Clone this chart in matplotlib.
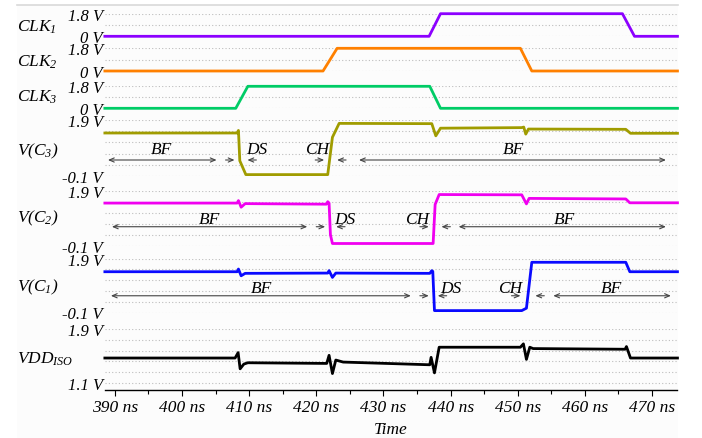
import numpy as np
import matplotlib.pyplot as plt
from matplotlib.lines import Line2D
from matplotlib.patches import Rectangle

# times in ns, voltages in V
t_clk1 = [388.5, 436.8, 438.5, 465.6, 467.4, 473.8]
v_clk1 = [0, 0, 1.8, 1.8, 0, 0]
t_clk2 = [388.5, 421.0, 423.1, 450.4, 452.1, 473.8]
v_clk2 = [0, 0, 1.8, 1.8, 0, 0]
t_clk3 = [388.5, 408.0, 409.8, 436.9, 438.5, 473.8]
v_clk3 = [0, 0, 1.8, 1.8, 0, 0]

t_c3 = [388.5, 408.2, 408.4, 408.6, 409.5, 421.7, 422.4, 423.4, 437.2, 437.8,
        438.5, 450.6, 450.9, 451.2, 451.6, 466.1, 466.8, 473.8]
v_c3 = [1.43, 1.43, 1.52, 0.45, -0.04, -0.04, 1.28, 1.77, 1.76, 1.33,
        1.60, 1.62, 1.64, 1.39, 1.57, 1.56, 1.42, 1.42]

t_c2 = [388.5, 408.2, 408.4, 408.8, 409.4, 421.5, 421.7, 421.9, 422.1, 422.4,
        437.4, 437.7, 438.3, 450.6, 451.3, 451.7, 466.1, 466.7, 473.8]
v_c2 = [1.45, 1.45, 1.54, 1.30, 1.43, 1.41, 1.50, 1.45, 0.30, -0.02,
        -0.02, 1.40, 1.76, 1.75, 1.42, 1.62, 1.60, 1.46, 1.46]

t_c1 = [388.5, 408.2, 408.4, 408.8, 409.4, 421.7, 421.9, 422.4, 422.9, 436.9,
        437.2, 437.35, 437.6, 450.6, 451.3, 452.1, 466.1, 466.7, 473.8]
v_c1 = [1.41, 1.41, 1.51, 1.26, 1.35, 1.36, 1.45, 1.20, 1.36, 1.35,
        1.45, 1.42, -0.03, -0.03, 0.06, 1.76, 1.76, 1.41, 1.41]

t_vdd = [388.5, 407.9, 408.35, 408.65, 409.2, 409.8, 421.55, 421.9, 422.4, 422.9,
         424.0, 436.9, 437.1, 437.6, 438.3, 450.4, 450.85, 451.3, 451.8, 452.3,
         466.0, 466.2, 466.8, 473.8]
v_vdd = [1.47, 1.47, 1.55, 1.31, 1.38, 1.40, 1.39, 1.51, 1.24, 1.44,
         1.41, 1.37, 1.48, 1.25, 1.63, 1.63, 1.68, 1.45, 1.63, 1.61,
         1.60, 1.64, 1.47, 1.47]

# phase markers (ns): BF spans, DS / CH edges, label centres
c3_bf = [(388.96, 405.14), (426.36, 472.08)]
c3_ds = (407.81, 409.74)
c3_ch = (421.17, 423.10)
c3_lab = [("BF", 396.98), ("DS", 411.08), ("CH", 420.13), ("BF", 449.37)]

c2_bf = [(389.55, 418.65), (441.2, 472.08)]
c2_ds = (421.32, 422.95)
c2_ch = (436.75, 438.64)
c2_lab = [("BF", 404.1), ("DS", 424.3), ("CH", 434.97), ("BF", 457.04)]

c1_bf = [(389.4, 434.08), (455.3, 472.82)]
c1_ds = (436.75, 438.09)
c1_ch = (450.41, 452.63)
c1_lab = [("BF", 411.8), ("DS", 439.97), ("CH", 448.88), ("BF", 463.9)]

x_ticks = [390, 400, 410, 420, 430, 440, 450, 460, 470]

plt.rcParams['font.family'] = ['Liberation Serif', 'DejaVu Serif']
plt.rcParams['font.style'] = 'italic'
plt.rcParams['mathtext.fontset'] = 'custom'
plt.rcParams['mathtext.it'] = 'Liberation Serif:italic'
plt.rcParams['mathtext.rm'] = 'Liberation Serif:italic'
plt.rcParams['mathtext.default'] = 'it'
FS = 12.5

W, H = 702, 439
X0, X1 = 105, 677
fig = plt.figure(figsize=(W / 100, H / 100), dpi=100)

# faint panel background + top border like the original screenshot
fig.add_artist(Rectangle((17 / W, 0), (678 - 17) / W, 1 - 6 / H,
                         transform=fig.transFigure, fc='#fcfcfc', ec='none', zorder=-5))
fig.add_artist(Line2D([17 / W, 678 / W], [1 - 6 / H, 1 - 6 / H],
                      transform=fig.transFigure, color='#d9d9d9', lw=1.2))


def panel(y_top, y_bot, vb, vt, grid, labels, extra=0):
    # axes placed so that vt sits at pixel y_top and vb at pixel y_bot
    scale = (vt - vb) / (y_bot - y_top)
    ax = fig.add_axes([X0 / W, 1 - (y_bot + extra) / H, (X1 - X0) / W,
                       (y_bot + extra - y_top) / H])
    ax.set_facecolor('none')
    ax.set_xlim(388.52, 473.73)
    ax.set_ylim(vb - extra * scale, vt)
    for g in grid:
        ax.axhline(g, color='#bdbdbd', lw=0.8, ls=(0, (1, 2)), zorder=0)
    for s in ax.spines.values():
        s.set_visible(False)
    ax.set_yticks([vb, vt])
    ax.set_yticklabels(labels)
    ax.tick_params(axis='y', length=0, pad=1.5, labelsize=12)
    ax.set_xticks([])
    return ax


clk_grid = [0, 0.9, 1.8]
c_grid = [-0.1, 0.3, 0.7, 1.1, 1.5, 1.9]
vdd_grid = [1.1, 1.26, 1.42, 1.58, 1.74, 1.9]

ax_clk1 = panel(14.7, 37.3, 0, 1.8, clk_grid, ["0 V", "1.8 V"])
ax_clk2 = panel(49.3, 72.0, 0, 1.8, clk_grid, ["0 V", "1.8 V"])
ax_clk3 = panel(87.3, 109.3, 0, 1.8, clk_grid, ["0 V", "1.8 V"])
ax_c3 = panel(120.7, 177.3, -0.1, 1.9, c_grid, ["-0.1 V", "1.9 V"])
ax_c2 = panel(191.7, 246.7, -0.1, 1.9, c_grid, ["-0.1 V", "1.9 V"])
ax_c1 = panel(259.5, 313.5, -0.1, 1.9, c_grid, ["-0.1 V", "1.9 V"])
ax_vdd = panel(330.0, 384.0, 1.1, 1.9, vdd_grid, ["1.1 V", "1.9 V"], extra=7)

lw = 2.0
ax_clk1.plot(t_clk1, v_clk1, color='#8c00ff', lw=lw, clip_on=False)
ax_clk2.plot(t_clk2, v_clk2, color='#ff8000', lw=lw, clip_on=False)
ax_clk3.plot(t_clk3, v_clk3, color='#00cc66', lw=lw, clip_on=False)
ax_c3.plot(t_c3, v_c3, color='#a09c00', lw=lw, clip_on=False)
ax_c2.plot(t_c2, v_c2, color='#f000f0', lw=lw, clip_on=False)
ax_c1.plot(t_c1, v_c1, color='#0a0aff', lw=lw, clip_on=False)
ax_vdd.plot(t_vdd, v_vdd, color='black', lw=lw, clip_on=False)

# phase annotations
arr_len = 1.33


def phases(ax, bf, ds, ch, labs, y_arr, y_txt):
    kw = dict(color='#444444', lw=0.8, shrinkA=0, shrinkB=0)
    for a, b in bf:
        ax.annotate('', xy=(b, y_arr), xytext=(a, y_arr),
                    arrowprops=dict(arrowstyle='<->,head_length=0.35,head_width=0.15', **kw))
    for a, b in (ds, ch):
        ax.annotate('', xy=(a, y_arr), xytext=(a - arr_len, y_arr),
                    arrowprops=dict(arrowstyle='->,head_length=0.35,head_width=0.15', **kw))
        ax.annotate('', xy=(b, y_arr), xytext=(b + arr_len, y_arr),
                    arrowprops=dict(arrowstyle='->,head_length=0.35,head_width=0.15', **kw))
    for s, x in labs:
        ax.text(x, y_txt, s, ha='center', va='center', fontsize=FS)


phases(ax_c3, c3_bf, c3_ds, c3_ch, c3_lab, 0.476, 0.87)
phases(ax_c2, c2_bf, c2_ds, c2_ch, c2_lab, 0.59, 0.87)
phases(ax_c1, c1_bf, c1_ds, c1_ch, c1_lab, 0.52, 0.80)

# bottom time axis
ax_vdd.spines['bottom'].set_visible(True)
ax_vdd.spines['bottom'].set_linewidth(1.0)
ax_vdd.set_xticks(x_ticks)
ax_vdd.set_xticklabels([f"{t} ns" for t in x_ticks])
ax_vdd.set_xticks(np.arange(395, 470, 10), minor=True)
ax_vdd.tick_params(axis='x', which='major', direction='out', length=4.5, width=0.8,
                   pad=2, labelsize=FS)
ax_vdd.tick_params(axis='x', which='minor', direction='out', length=3, width=0.8)
fig.text(391 / W, 1 - 430 / H, "Time", ha='center', va='center', fontsize=FS)

# signal names
names = [r"$CLK_1$", r"$CLK_2$", r"$CLK_3$", r"$V(C_3)$", r"$V(C_2)$", r"$V(C_1)$", r"$VDD_{ISO}$"]
name_y = [27, 62, 97, 151, 218, 287, 359]
for s, y in zip(names, name_y):
    fig.text(17 / W, 1 - y / H, s, ha='left', va='center', fontsize=FS)

plt.savefig("out.png", dpi=100)
